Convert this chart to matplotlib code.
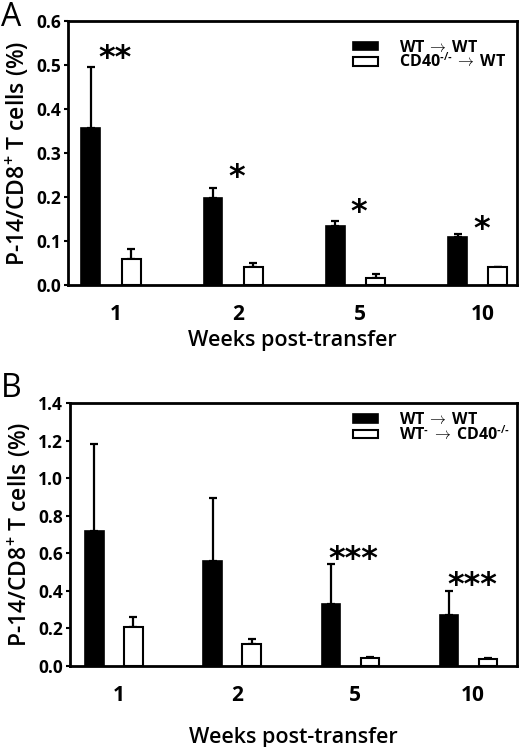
import numpy as np
import matplotlib
matplotlib.use('Agg')
import matplotlib.pyplot as plt

plt.rcParams['font.family'] = ['Open Sans', 'DejaVu Sans']
plt.rcParams['font.weight'] = 'bold'
plt.rcParams['axes.labelweight'] = 'semibold'
plt.rcParams['mathtext.fontset'] = 'custom'
plt.rcParams['mathtext.rm'] = 'Open Sans:semibold'
plt.rcParams['mathtext.default'] = 'rm'

# ---- data ----
weeks = ['1', '2', '5', '10']

a_wt = [0.356, 0.197, 0.133, 0.108]
a_wt_err = [0.140, 0.023, 0.012, 0.009]
a_ko = [0.058, 0.040, 0.015, 0.040]
a_ko_err = [0.023, 0.009, 0.010, 0.0]
a_stars = ['**', '*', '*', '*']
a_star_y = [0.527, 0.258, 0.178, 0.139]

b_wt = [0.719, 0.557, 0.332, 0.270]
b_wt_err = [0.464, 0.339, 0.213, 0.130]
b_ko = [0.208, 0.119, 0.044, 0.039]
b_ko_err = [0.053, 0.026, 0.004, 0.005]
b_stars = ['', '', '***', '***']
b_star_y = [0, 0, 0.598, 0.456]

ARR = r'$\,\rightarrow\,$'
KO = '$^{\u2010/\u2010}$'
labels_a = ['WT' + ARR + 'WT', 'CD40' + KO + ARR + 'WT']
labels_b = ['WT' + ARR + 'WT', 'WT$^{\u2010}$' + ARR + 'CD40' + KO]


def panel(ax, wt, wt_err, ko, ko_err, stars, star_y, labels, ymax, ystep, xlim, leg_xy):
    x = np.arange(len(weeks))
    w = 0.155
    off = 0.165
    ax.bar(x - off, wt, w, color='black', edgecolor='black', linewidth=1.2,
           label=labels[0], zorder=2)
    ax.bar(x + off, ko, w, color='white', edgecolor='black', linewidth=1.5,
           label=labels[1], zorder=2)
    ax.errorbar(x - off, wt, yerr=[np.zeros(len(wt)), wt_err], fmt='none',
                ecolor='black', elinewidth=1.6, capsize=3, capthick=1.6, zorder=1)
    ax.errorbar(x + off, ko, yerr=[np.zeros(len(ko)), ko_err], fmt='none',
                ecolor='black', elinewidth=1.6, capsize=3, capthick=1.6, zorder=1)
    for i, s in enumerate(stars):
        if s:
            ax.annotate(s, (x[i] + 0.03, star_y[i]), xytext=(0, -4),
                        textcoords='offset points', ha='center', va='center',
                        fontsize=23, fontweight='bold', family='DejaVu Sans')
    ax.set_xlim(*xlim)
    ax.set_ylim(0, ymax)
    ax.set_yticks(np.arange(0, ymax + ystep / 2, ystep))
    ax.yaxis.set_major_formatter(matplotlib.ticker.FormatStrFormatter('%.1f'))
    ax.set_xticks(x + 0.04)
    ax.set_xticklabels(weeks, fontsize=15)
    ax.tick_params(axis='x', length=0, pad=14)
    ax.tick_params(axis='y', length=3, width=1.5, labelsize=12.5, pad=2)
    for sp in ax.spines.values():
        sp.set_linewidth(2)
    ax.set_ylabel('P-14/CD8$^{+}$ T cells (%)', fontsize=16.5, labelpad=4)
    ax.legend(loc='upper left', frameon=False, fontsize=11.5,
              handlelength=1.6, handleheight=0.45, handletextpad=1.3,
              labelspacing=-0.2, borderpad=0.3, bbox_to_anchor=leg_xy)
    return ax


fig = plt.figure(figsize=(5.2, 7.47), dpi=100)

ax1 = fig.add_axes([0.131, 0.6185, 0.863, 0.3534])
panel(ax1, a_wt, a_wt_err, a_ko, a_ko_err, a_stars, a_star_y, labels_a, 0.6, 0.1,
      (-0.35, 3.32), (0.606, 0.977))
ax1.set_xlabel('Weeks post-transfer', fontsize=15.5, labelpad=3)

ax2 = fig.add_axes([0.135, 0.1084, 0.859, 0.3521])
panel(ax2, b_wt, b_wt_err, b_ko, b_ko_err, b_stars, b_star_y, labels_b, 1.4, 0.2,
      (-0.37, 3.41), (0.604, 1.013))
ax2.set_xlabel('Weeks post-transfer', fontsize=15.5, labelpad=15)

fig.text(0.002, 0.998, 'A', fontsize=23, fontweight='normal', ha='left', va='top')
fig.text(0.002, 0.502, 'B', fontsize=23, fontweight='normal', ha='left', va='top')

fig.savefig('out.png', dpi=100)
